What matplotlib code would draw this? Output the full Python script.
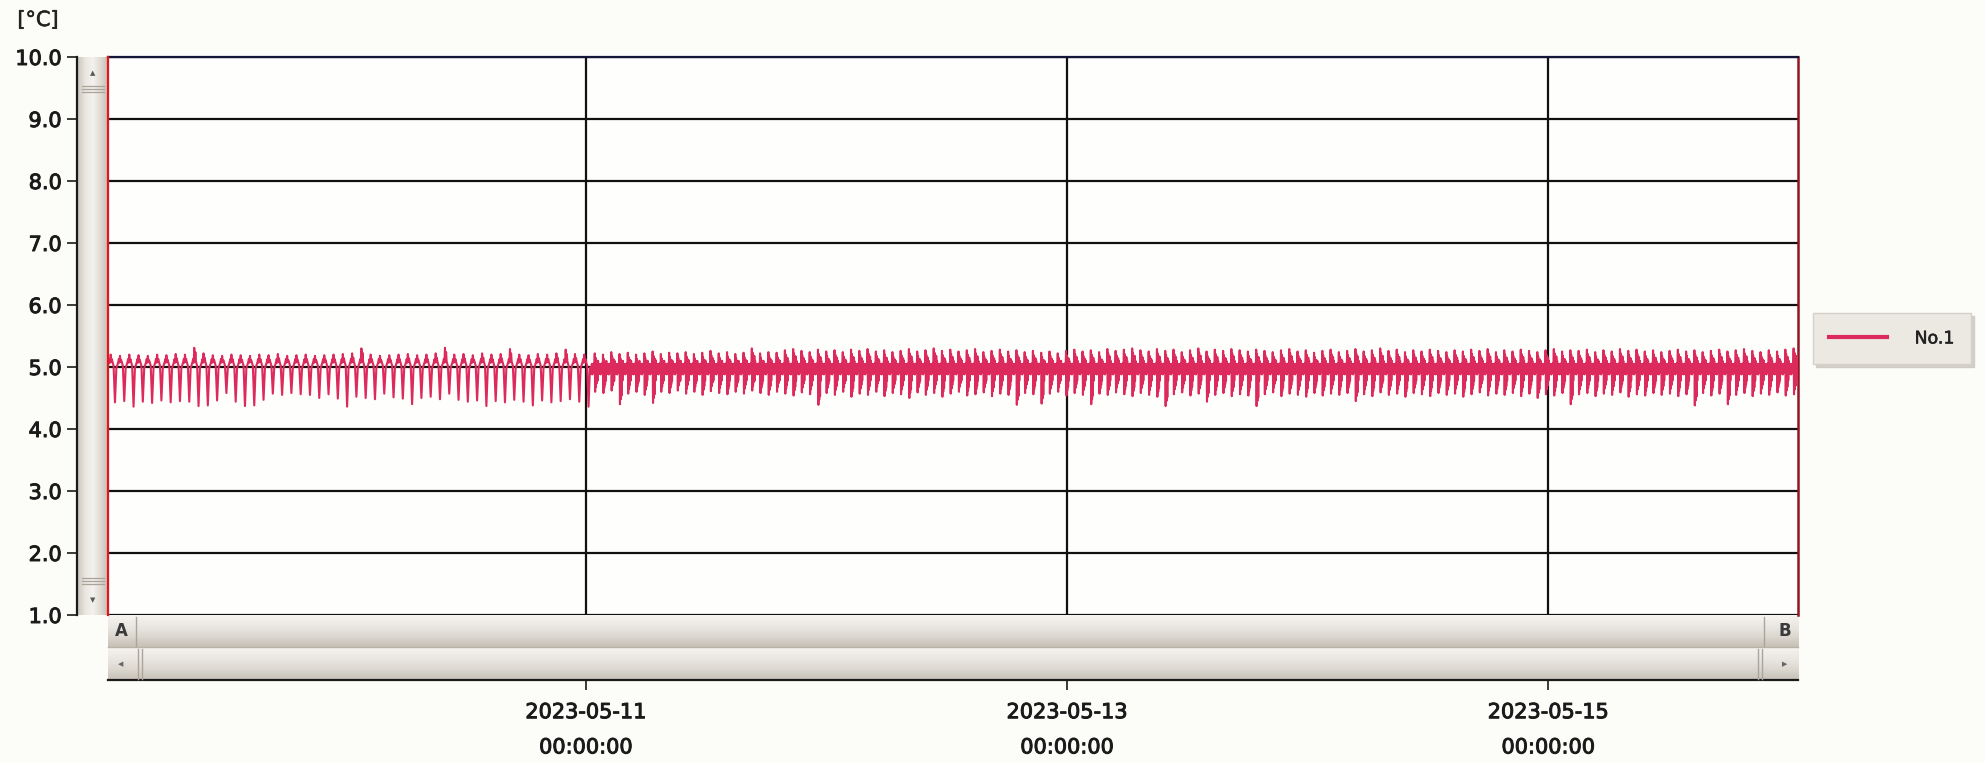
import datetime as dt
import numpy as np
import matplotlib
matplotlib.use("Agg")
import matplotlib.pyplot as plt
import matplotlib.dates as mdates
import matplotlib.patheffects as pe
from matplotlib.lines import Line2D

# ---------------- data ----------------
y_ticks = [1.0, 2.0, 3.0, 4.0, 5.0, 6.0, 7.0, 8.0, 9.0, 10.0]
y_tick_labels = ["1.0", "2.0", "3.0", "4.0", "5.0", "6.0", "7.0", "8.0", "9.0", "10.0"]
x_tick_dates = ["2023-05-11", "2023-05-13", "2023-05-15"]
x_tick_labels = ["2023-05-11\n00:00:00", "2023-05-13\n00:00:00", "2023-05-15\n00:00:00"]
x_start = "2023-05-09 00:20"
x_end = "2023-05-16 00:55"
seg1_end = "2023-05-11 00:30"
series_name = "No.1"
unit_label = "[\u00b0C]"

# segment 1 (05-09 .. 05-11): per-cycle peak / trough values
seg1_peaks = [5.20, 5.18, 5.20, 5.19, 5.18, 5.20, 5.19, 5.21, 5.20, 5.31,
              5.22, 5.19, 5.18, 5.20, 5.19, 5.18, 5.20, 5.19, 5.21, 5.18,
              5.19, 5.20, 5.18, 5.19, 5.20, 5.21, 5.22, 5.30, 5.20, 5.18,
              5.19, 5.20, 5.21, 5.19, 5.20, 5.22, 5.31, 5.20, 5.21, 5.19,
              5.22, 5.20, 5.21, 5.29, 5.20, 5.19, 5.21, 5.20, 5.22, 5.28,
              5.21, 5.20]
seg1_troughs = [4.43, 4.45, 4.36, 4.44, 4.42, 4.46, 4.43, 4.45, 4.44, 4.37,
                4.38, 4.46, 4.58, 4.44, 4.37, 4.38, 4.47, 4.57, 4.55, 4.58,
                4.56, 4.55, 4.50, 4.56, 4.49, 4.36, 4.52, 4.50, 4.48, 4.57,
                4.51, 4.49, 4.40, 4.50, 4.52, 4.48, 4.57, 4.47, 4.44, 4.46,
                4.37, 4.45, 4.43, 4.47, 4.44, 4.38, 4.46, 4.43, 4.45, 4.48,
                4.44, 4.36]
# levels read inside one segment-1 cycle (P = peak, T = trough)
seg1_shape_pos = [0.00, 0.10, 0.17, 0.23, 0.29, 0.35, 0.41, 0.47, 0.53, 0.60, 0.75, 0.90]
seg1_shape_val = [5.03, 5.08, 5.13, 5.07, "P", 5.08, "P-", 5.09, 5.06, 5.02, "T", 4.98]

# segment 2 (05-11 .. 05-16)
seg2_peaks = [5.22, 5.20, 5.24, 5.21, 5.23, 5.20, 5.22, 5.25, 5.21, 5.23,
              5.22, 5.24, 5.21, 5.23, 5.26, 5.22, 5.24, 5.21, 5.23, 5.30,
              5.22, 5.24, 5.23, 5.27, 5.29, 5.26, 5.24, 5.28, 5.25, 5.27,
              5.24, 5.28, 5.26, 5.29, 5.25, 5.27, 5.24, 5.26, 5.29, 5.25,
              5.27, 5.30, 5.26, 5.28, 5.25, 5.27, 5.29, 5.24, 5.26, 5.28,
              5.25, 5.27, 5.24, 5.26, 5.23, 5.25, 5.22, 5.26, 5.28, 5.25,
              5.27, 5.24, 5.29, 5.26, 5.28, 5.30, 5.27, 5.25, 5.29, 5.26,
              5.28, 5.24, 5.27, 5.30, 5.25, 5.28, 5.26, 5.29, 5.27, 5.25,
              5.28, 5.26, 5.24, 5.27, 5.29, 5.25, 5.27, 5.23, 5.26, 5.28,
              5.24, 5.26, 5.29, 5.25, 5.27, 5.30, 5.26, 5.28, 5.24, 5.27,
              5.25, 5.28, 5.26, 5.24, 5.27, 5.25, 5.28, 5.26, 5.29, 5.24,
              5.27, 5.25, 5.28, 5.26, 5.24, 5.27, 5.29, 5.25, 5.27, 5.26,
              5.28, 5.24, 5.27, 5.25, 5.29, 5.26, 5.28, 5.25, 5.27, 5.24,
              5.26, 5.28, 5.25, 5.27, 5.24, 5.26, 5.28, 5.25, 5.27, 5.29,
              5.26, 5.24, 5.27, 5.25, 5.28, 5.30]
seg2_troughs = [4.60, 4.58, 4.62, 4.40, 4.57, 4.60, 4.55, 4.42, 4.60, 4.58,
                4.62, 4.57, 4.60, 4.55, 4.61, 4.58, 4.56, 4.60, 4.57, 4.62,
                4.58, 4.55, 4.60, 4.57, 4.54, 4.59, 4.56, 4.39, 4.58, 4.55,
                4.60, 4.52, 4.57, 4.55, 4.60, 4.53, 4.58, 4.56, 4.50, 4.59,
                4.55, 4.58, 4.52, 4.57, 4.60, 4.54, 4.56, 4.59, 4.53, 4.57,
                4.55, 4.39, 4.58, 4.56, 4.41, 4.57, 4.60, 4.54, 4.58, 4.55,
                4.40, 4.57, 4.55, 4.59, 4.56, 4.53, 4.58, 4.55, 4.52, 4.37,
                4.56, 4.59, 4.54, 4.57, 4.44, 4.55, 4.58, 4.53, 4.56, 4.54,
                4.37, 4.56, 4.59, 4.53, 4.57, 4.55, 4.52, 4.58, 4.54, 4.57,
                4.55, 4.58, 4.45, 4.56, 4.53, 4.59, 4.55, 4.57, 4.52, 4.58,
                4.56, 4.53, 4.58, 4.55, 4.57, 4.52, 4.56, 4.59, 4.54, 4.57,
                4.55, 4.58, 4.53, 4.57, 4.50, 4.56, 4.54, 4.58, 4.40, 4.56,
                4.58, 4.53, 4.57, 4.55, 4.59, 4.52, 4.56, 4.54, 4.58, 4.55,
                4.57, 4.53, 4.56, 4.38, 4.58, 4.54, 4.57, 4.40, 4.55, 4.58,
                4.53, 4.57, 4.55, 4.59, 4.54, 4.56]
# levels read inside one segment-2 cycle (plateau wiggle, then burst)
seg2_shape_pos = [0.00, 0.06, 0.12, 0.18, 0.24, 0.30, 0.36, 0.42,
                  0.47, 0.52, 0.57, 0.62, 0.67, 0.72, 0.77, 0.82, 0.87, 0.93]
seg2_shape_val = [5.00, 4.89, 5.05, 4.88, 5.04, 4.91, 5.06, 4.94,
                  "P", "T", "P-", "T+", "P--", "T++", "P--", 4.78, 5.10, 4.90]
shape_steps = {"P-": -0.07, "P--": -0.12, "T+": 0.08, "T++": 0.14}

# ---------------- build series ----------------
def to_num(s):
    return mdates.date2num(dt.datetime.strptime(s, "%Y-%m-%d %H:%M"))

def build(t0, t1, peaks, troughs, pos, vals):
    n = len(peaks)
    starts = np.linspace(t0, t1, n + 1)
    period = starts[1] - starts[0]
    ts, vs = [], []
    for i in range(n):
        for f, v in zip(pos, vals):
            if v == "P":
                val = peaks[i]
            elif v == "T":
                val = troughs[i]
            elif isinstance(v, str) and v.startswith("P"):
                val = peaks[i] + shape_steps[v]
            elif isinstance(v, str) and v.startswith("T"):
                val = troughs[i] + shape_steps[v]
            else:
                val = v
            ts.append(starts[i] + f * period)
            vs.append(val)
    return ts, vs

xs0, xs1, xs2 = to_num(x_start), to_num(seg1_end), to_num(x_end)
t1, v1 = build(xs0, xs1, seg1_peaks, seg1_troughs, seg1_shape_pos, seg1_shape_val)
t2, v2 = build(xs1, xs2, seg2_peaks, seg2_troughs, seg2_shape_pos, seg2_shape_val)
times = np.array(t1 + t2 + [xs2])
temps = np.array(v1 + v2 + [5.0])

# ---------------- figure ----------------
W, H = 1985, 763
fig = plt.figure(figsize=(W / 100, H / 100), dpi=100, facecolor="#fcfcf9")

def fx(x):
    return x / W

def fy(y):
    return 1 - y / H

AX_L, AX_R, AX_T, AX_B = 108, 1798, 57, 615

def thick(w):
    return [pe.withStroke(linewidth=w, foreground="#1e1e1e")]

def gradient(rect_px, colors, horizontal=True, z=0):
    x0, y0, x1, y1 = rect_px
    a = fig.add_axes([fx(x0), fy(y1), fx(x1 - x0), (y1 - y0) / H], zorder=z)
    a.set_axis_off()
    cols = np.array([matplotlib.colors.to_rgb(c) for c in colors])
    n = 64
    s = np.linspace(0, 1, n)
    k = np.linspace(0, 1, len(cols))
    arr = np.stack([np.interp(s, k, cols[:, j]) for j in range(3)], axis=-1)
    img = arr[np.newaxis, :, :] if horizontal else arr[:, np.newaxis, :]
    a.imshow(img, aspect="auto", extent=[0, 1, 0, 1], interpolation="bilinear")
    a.set_xlim(0, 1)
    a.set_ylim(0, 1)
    return a

# scrollbars
gradient((78, AX_T, AX_L, AX_B), ["#cdc8bf", "#ebe8e2", "#f4f2ee", "#e0dcd5", "#c6c0b5"], True)
gradient((AX_L, AX_B, AX_R, 647), ["#f6f4f1", "#ebe8e3", "#dcd8d0", "#c6c0b5"], False)
gradient((AX_L, 647, AX_R, 680), ["#f6f4f1", "#ece9e4", "#ddd9d1", "#c8c2b8"], False)

ax = fig.add_axes([fx(AX_L), fy(AX_B), fx(AX_R - AX_L), (AX_B - AX_T) / H], zorder=2)
ax.set_facecolor("#fefefc")

line_color = "#dc2a5c"
ax.plot(times, temps, color=line_color, lw=1.5, label=series_name, zorder=3)

ax.set_xlim(xs0, xs2)
ax.set_ylim(1.0, 10.0)
ax.set_yticks(y_ticks)
ax.set_yticklabels(y_tick_labels)
ax.set_xticks([mdates.date2num(dt.datetime.strptime(d, "%Y-%m-%d")) for d in x_tick_dates])
ax.set_xticklabels(x_tick_labels)

ax.grid(True, color="#111111", lw=1.6, zorder=1)
ax.set_axisbelow(True)

ax.spines["left"].set_position(("outward", 31 * 0.72))
ax.spines["bottom"].set_position(("outward", 65 * 0.72))
ax.spines["left"].set_color("#1a1a1a")
ax.spines["left"].set_linewidth(1.6)
ax.spines["bottom"].set_color("#1a1a1a")
ax.spines["bottom"].set_linewidth(1.6)
ax.spines["top"].set_color("#15153a")
ax.spines["top"].set_linewidth(1.6)
ax.spines["right"].set_color("#8e1626")
ax.spines["right"].set_linewidth(1.8)
ax.axvline(xs0, color="#e4161c", lw=1.6, zorder=4, clip_on=False)

ax.tick_params(axis="y", length=7, width=1.2, pad=4, labelsize=15, colors="#1a1a1a")
ax.tick_params(axis="x", length=7, width=1.2, pad=9, labelsize=15, colors="#1a1a1a")

fig.text(fx(38), fy(20), unit_label, fontsize=15, color="#222222", ha="center", va="center",
         path_effects=thick(0.4))

# scrollbar decorations
def fline(xa, ya, xb, yb, color, lw=1.0):
    fig.add_artist(Line2D([fx(xa), fx(xb)], [fy(ya), fy(yb)], color=color, lw=lw,
                          transform=fig.transFigure, zorder=5))

fig.text(fx(93), fy(73), "\u25b2", fontsize=5, color="#5a5a5a", ha="center", va="center", zorder=6)
fig.text(fx(93), fy(600), "\u25bc", fontsize=5, color="#5a5a5a", ha="center", va="center", zorder=6)
for yy in (86, 89, 92):
    fline(82, yy, 104, yy, "#a9a398", 0.9)
for yy in (578, 581, 584):
    fline(82, yy, 104, yy, "#a9a398", 0.9)
fline(AX_L, 647, AX_R, 647, "#b8b2a7", 1.0)
fig.text(fx(121), fy(631), "A", fontsize=12, fontweight="bold", color="#3a3a3a",
         ha="center", va="center", zorder=6)
fig.text(fx(1785), fy(631), "B", fontsize=12, fontweight="bold", color="#3a3a3a",
         ha="center", va="center", zorder=6)
fig.text(fx(121), fy(664), "\u25c0", fontsize=5, color="#666666", ha="center", va="center", zorder=6)
fig.text(fx(1785), fy(664), "\u25b6", fontsize=5, color="#666666", ha="center", va="center", zorder=6)
fline(136, 617, 136, 646, "#aaa49a", 1.0)
fline(1764, 617, 1764, 646, "#aaa49a", 1.0)
for xx in (138, 142):
    fline(xx, 649, xx, 679, "#aaa49a", 1.0)
for xx in (1758, 1762):
    fline(xx, 649, xx, 679, "#aaa49a", 1.0)

# legend
leg = ax.legend(loc="upper left", bbox_to_anchor=(fx(1813), fy(313)), bbox_transform=fig.transFigure,
                borderaxespad=0, fontsize=12.5, handlelength=3.3, handletextpad=1.6,
                borderpad=0.95, frameon=True, fancybox=False,
                shadow={"color": "#cfcbc4", "alpha": 0.9})
leg.get_frame().set_facecolor("#ece9e2")
leg.get_frame().set_edgecolor("#d5d1c9")
leg.get_frame().set_alpha(1.0)
leg.get_lines()[0].set_linewidth(3.0)
for t in leg.get_texts():
    t.set_color("#222222")
    t.set_path_effects(thick(0.4))

# finalize tick label styling after ticks exist
fig.canvas.draw()
for lbl in ax.xaxis.get_majorticklabels():
    lbl.set_linespacing(1.95)
    lbl.set_path_effects(thick(0.7))
for lbl in ax.yaxis.get_majorticklabels():
    lbl.set_path_effects(thick(0.7))

fig.savefig("out.png", dpi=100, facecolor=fig.get_facecolor())
